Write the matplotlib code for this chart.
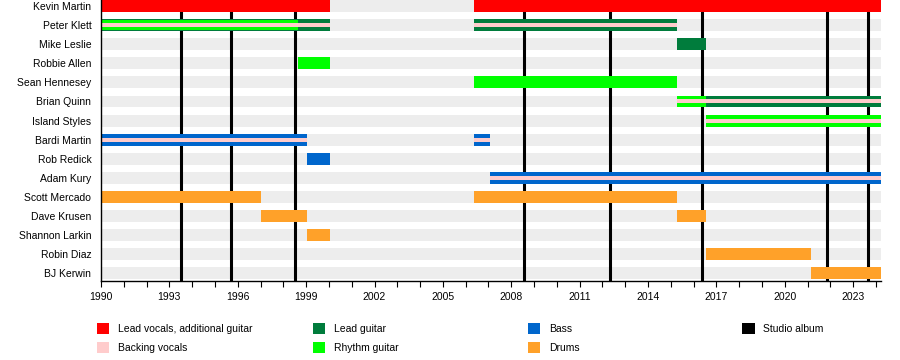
import matplotlib
matplotlib.use("Agg")
import matplotlib.pyplot as plt
from matplotlib.patches import Patch
from matplotlib.ticker import FixedLocator, MultipleLocator

plt.rcParams['font.family'] = ['Liberation Sans', 'DejaVu Sans']

END = 2024.22

members = ["Kevin Martin", "Peter Klett", "Mike Leslie", "Robbie Allen", "Sean Hennesey",
           "Brian Quinn", "Island Styles", "Bardi Martin", "Rob Redick", "Adam Kury",
           "Scott Mercado", "Dave Krusen", "Shannon Larkin", "Robin Diaz", "BJ Kerwin"]

# (member, start, end)
lead_vocals = [("Kevin Martin", 1990, 2000.05), ("Kevin Martin", 2006.37, END)]
lead_guitar = [("Peter Klett", 1990, 2000.05), ("Peter Klett", 2006.37, 2015.27),
               ("Mike Leslie", 2015.27, 2016.55), ("Brian Quinn", 2016.55, END)]
rhythm_guitar = [("Robbie Allen", 1998.64, 2000.05), ("Sean Hennesey", 2006.37, 2015.27),
                 ("Brian Quinn", 2015.27, 2016.55), ("Island Styles", 2016.55, END)]
# rhythm guitar as a secondary role inside another bar
rhythm_secondary = [("Peter Klett", 1990, 1998.64)]
bass = [("Bardi Martin", 1990, 1999.04), ("Bardi Martin", 2006.37, 2007.07),
        ("Rob Redick", 1999.04, 2000.05), ("Adam Kury", 2007.07, END)]
drums = [("Scott Mercado", 1990, 1997.02), ("Scott Mercado", 2006.37, 2015.27),
         ("Dave Krusen", 1997.02, 1999.04), ("Dave Krusen", 2015.27, 2016.55),
         ("Shannon Larkin", 1999.04, 2000.05), ("Robin Diaz", 2016.55, 2021.15),
         ("BJ Kerwin", 2021.15, END)]
backing_vocals = [("Peter Klett", 1990, 2000.05), ("Peter Klett", 2006.37, 2015.27),
                  ("Brian Quinn", 2015.27, END), ("Island Styles", 2016.55, END),
                  ("Bardi Martin", 1990, 1999.04), ("Bardi Martin", 2006.37, 2007.07),
                  ("Adam Kury", 2007.07, END)]
albums = [1993.51, 1995.70, 1998.51, 2008.56, 2012.33, 2016.37, 2021.86, 2023.66]
year_ticks = list(range(1990, 2024, 3))

colors = {
    "Lead vocals, additional guitar": "#ff0000",
    "Backing vocals": "#ffcccc",
    "Lead guitar": "#007c3c",
    "Rhythm guitar": "#00ff00",
    "Bass": "#0066cc",
    "Drums": "#ffa129",
    "Studio album": "#000000",
}

H = 0.625
fig = plt.figure(figsize=(9, 3.6), dpi=100)
ax = fig.add_axes([0.1122, 0.2194, 0.8667, 0.7806])

ypos = {m: i for i, m in enumerate(members)}


def draw(spans, color, h, z):
    for m, s, e in spans:
        ax.barh(ypos[m], e - s, left=s, height=h, color=color, linewidth=0, zorder=z)


# gray row bands
ax.barh(range(len(members)), END - 1990, left=1990, height=H, color="#ededed",
        linewidth=0, zorder=1)

for a in albums:
    ax.axvline(a, color="black", linewidth=2.2, zorder=2)

draw(lead_vocals, colors["Lead vocals, additional guitar"], H, 3)
draw(lead_guitar, colors["Lead guitar"], H, 3)
draw(rhythm_guitar, colors["Rhythm guitar"], H, 3)
draw(bass, colors["Bass"], H, 3)
draw(drums, colors["Drums"], H, 3)
draw(rhythm_secondary, colors["Rhythm guitar"], H * 0.82, 4)
draw(backing_vocals, colors["Backing vocals"], H / 3, 5)

ax.set_xlim(1990, END)
ax.set_ylim(14.4, -0.3125)
ax.set_yticks(range(len(members)))
ax.set_yticklabels(members, fontsize=7.5)
ax.tick_params(axis="y", length=0, pad=7)
ax.xaxis.set_major_locator(FixedLocator(year_ticks))
ax.xaxis.set_minor_locator(MultipleLocator(1))
ax.tick_params(axis="x", which="both", length=4, width=0.8, labelsize=7.5, pad=4)
for sp in ["top", "right"]:
    ax.spines[sp].set_visible(False)
ax.spines["left"].set_linewidth(1.0)
ax.spines["bottom"].set_linewidth(1.0)
ax.spines["left"].set_zorder(6)

# legend in four columns
groups = [["Lead vocals, additional guitar", "Backing vocals"],
          ["Lead guitar", "Rhythm guitar"],
          ["Bass", "Drums"],
          ["Studio album"]]
xs = [0.1075, 0.3475, 0.5865, 0.8245]
for g, x in zip(groups, xs):
    handles = [Patch(facecolor=colors[k], edgecolor="none", label=k) for k in g]
    fig.legend(handles=handles, loc="upper left", bbox_to_anchor=(x, 0.103),
               frameon=False, fontsize=7.5, handlelength=1.2, handleheight=1.3,
               handletextpad=0.8, labelspacing=0.75, borderpad=0, borderaxespad=0)

fig.savefig("out.png", dpi=100)
